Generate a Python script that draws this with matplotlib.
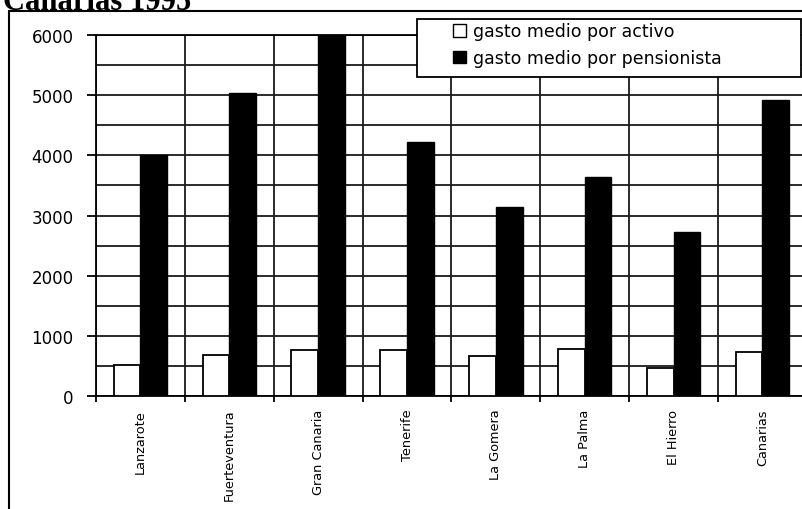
import numpy as np
import matplotlib
matplotlib.use("Agg")
import matplotlib.pyplot as plt
from matplotlib.patches import Rectangle, Patch

islas = ["Lanzarote", "Fuerteventura", "Gran Canaria", "Tenerife",
         "La Gomera", "La Palma", "El Hierro", "Canarias"]
gasto_activo = [525, 680, 760, 760, 675, 785, 470, 740]
gasto_pensionista = [4000, 5030, 6000, 4220, 3140, 3640, 2720, 4910]
serie_labels = ["gasto medio por activo", "gasto medio por pensionista"]
y_ticks = [0, 1000, 2000, 3000, 4000, 5000, 6000]

W, H = 803, 510
fig = plt.figure(figsize=(W / 100, H / 100), dpi=100)

# outer chart frame, runs off the right and bottom edges
fig.add_artist(Rectangle((8.5 / W, -0.1), 1.2, (H - 11.7) / H + 0.1,
                         transform=fig.transFigure, fill=False,
                         edgecolor="black", linewidth=1.5))
fig.text(3 / W, (H - 10.5) / H, "Canarias 1995", family="Liberation Serif",
         weight="bold", fontsize=22, va="baseline", ha="left")

ax = fig.add_axes([96 / W, (H - 397.3) / H, 710.9 / W, 361.6 / H])
x = np.arange(len(islas))
w = 0.3
ax.bar(x - w / 2, gasto_activo, w, color="white", edgecolor="black",
       linewidth=1.3, zorder=3)
ax.bar(x + w / 2, gasto_pensionista, w, color="black", edgecolor="black",
       linewidth=1.0, zorder=3)

ax.set_xlim(-0.5, len(islas) - 0.5)
ax.set_ylim(0, 6000)

ax.set_yticks(y_ticks)
ax.set_yticks(np.arange(500, 6001, 1000), minor=True)
ax.tick_params(axis="y", which="major", length=6.7, width=1.3, pad=9.5,
               labelsize=12, color="black")
ax.tick_params(axis="y", which="minor", length=0)

ax.set_xticks(x)
ax.set_xticklabels(islas, rotation=90, fontsize=9.3, va="top")
ax.set_xticks(np.arange(-0.5, len(islas)), minor=True)
ax.tick_params(axis="x", which="major", length=0, pad=9)
ax.tick_params(axis="x", which="minor", length=4, width=1.3,
               direction="out", color="black")

ax.set_axisbelow(True)
ax.grid(True, which="both", axis="y", color="#1a1a1a", linewidth=1.3)
ax.grid(True, which="minor", axis="x", color="#1a1a1a", linewidth=1.3)
for s in ax.spines.values():
    s.set_color("black")
    s.set_linewidth(1.3)

# legend box
fig.add_artist(Rectangle((417.3 / W, (H - 78.3) / H), 383.4 / W, 58.3 / H,
                         transform=fig.transFigure, facecolor="white",
                         edgecolor="black", linewidth=1.3, zorder=10))
handles = [Patch(facecolor="white", edgecolor="black", linewidth=1.0),
           Patch(facecolor="black", edgecolor="black", linewidth=1.0)]
leg = fig.legend(handles, serie_labels, loc="upper left",
                 bbox_to_anchor=(453 / W, (H - 23.5) / H),
                 frameon=False, fontsize=12.5, handlelength=0.75,
                 handleheight=0.75, handletextpad=0.4, labelspacing=0.5,
                 borderpad=0, borderaxespad=0)
leg.set_zorder(11)

fig.savefig("out.png", dpi=100)
